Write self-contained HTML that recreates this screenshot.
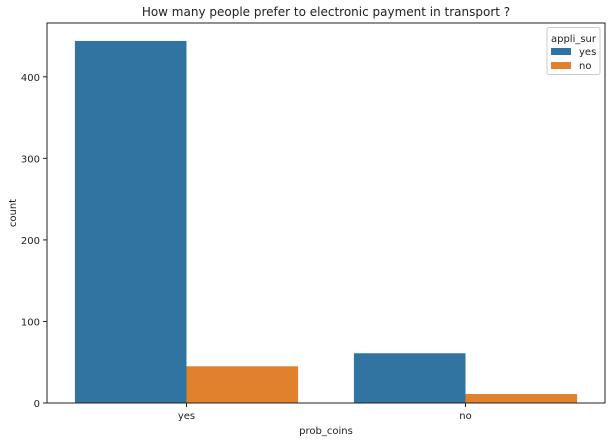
<!DOCTYPE html>
<html><head><meta charset="utf-8"><style>
body{margin:0;background:#fff;}
svg{display:block;font-family:"DejaVu Sans","Liberation Sans",sans-serif;}
</style></head><body>
<svg id="chart" width="612" height="442"></svg>
<script>
const categories = ["yes", "no"];
const hues = ["yes", "no"];
const seriesYes = [444, 61];
const seriesNo = [45, 11];
const yTicks = [0, 100, 200, 300, 400];
const colors = ["#3274a1", "#e1812c"];

const L = 47, R = 605, T = 23, B = 403;
const yMax = 466;
const NS = "http://www.w3.org/2000/svg";
const svg = document.getElementById('chart');
function y(v){ return B - v / yMax * (B - T); }
const bandW = (R - L) / categories.length;
function xc(i){ return L + bandW * (i + 0.5); }
function mk(tag, attrs, parent){ const e = document.createElementNS(NS, tag); for (const k in attrs) e.setAttribute(k, attrs[k]); (parent||svg).appendChild(e); return e; }

const series = [seriesYes, seriesNo];
const barW = bandW * 0.8 / 2;
series.forEach((vals, h) => {
  vals.forEach((v, i) => {
    const r = mk('rect', {x: xc(i) - bandW*0.4 + h*barW, y: y(v), width: barW, height: B - y(v), fill: colors[h]});
    
    
  });
});

const frame = mk('rect', {x: L, y: T, width: R - L, height: B - T, fill: 'none', stroke: '#222', 'stroke-width': 1});



yTicks.forEach(t => {
  mk('line', {x1: L - 4, x2: L, y1: y(t), y2: y(t), stroke: '#222'});
  const tx = mk('text', {x: L - 7, y: y(t) + 4, 'text-anchor': 'end', 'font-size': 10, fill: '#222'});
  tx.textContent = t;
  
  
});
categories.forEach((c, i) => {
  mk('line', {x1: xc(i), x2: xc(i), y1: B, y2: B + 4, stroke: '#222'});
  const tx = mk('text', {x: xc(i), y: B + 16, 'text-anchor': 'middle', 'font-size': 10, fill: '#222'});
  tx.textContent = c;
  
  
});

const xt = mk('text', {x: (L + R)/2, y: 434, 'text-anchor': 'middle', 'font-size': 10, fill: '#222'});
xt.textContent = 'prob_coins';


const yt = mk('text', {x: 16, y: (T + B)/2, 'text-anchor': 'middle', 'font-size': 10, fill: '#222', transform: 'rotate(-90 16 ' + (T + B)/2 + ')'});
yt.textContent = 'count';


const title = mk('text', {x: (L + R)/2, y: 16, 'text-anchor': 'middle', 'font-size': 12, fill: '#222'});
title.textContent = 'How many people prefer to electronic payment in transport ?';



const lg = mk('g', {});


mk('rect', {x: 547, y: 27.5, width: 53, height: 47, fill: '#fff', stroke: '#ccc', rx: 2}, lg);
const lt = mk('text', {x: 573.5, y: 42, 'text-anchor': 'middle', 'font-size': 10, fill: '#222'}, lg);
lt.textContent = 'appli_sur';
hues.forEach((h, k) => {
  const e = mk('g', {}, lg);
  
  
  mk('rect', {x: 551, y: 48 + k*14, width: 20, height: 7, fill: colors[k]}, e);
  const t = mk('text', {x: 579, y: 55 + k*14, 'font-size': 10, fill: '#222'}, e);
  t.textContent = h;
});
</script>
</body></html>
